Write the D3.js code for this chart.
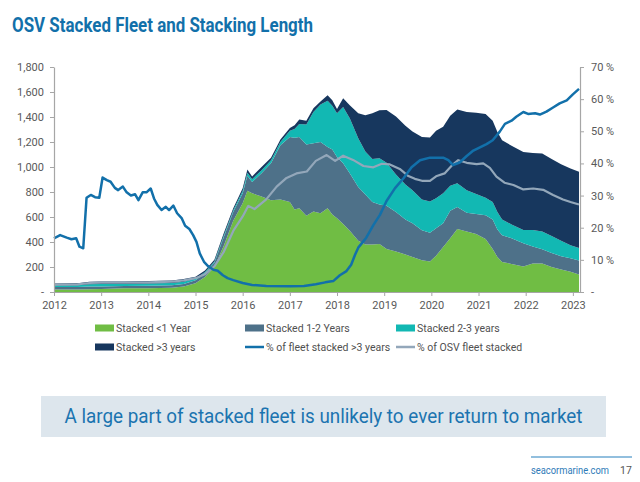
<!DOCTYPE html>
<html>
<head>
<meta charset="utf-8">
<script src="https://cdn.jsdelivr.net/npm/d3@7"></script>
<style>
  html, body { margin: 0; padding: 0; background: #ffffff; }
  svg { display: block; font-family: Roboto, "Noto Sans", sans-serif; }
</style>
</head>
<body>
<svg id="chart" width="640" height="482"></svg>
<script>
// ---------------- DATA ----------------
const titleText = "OSV Stacked Fleet and Stacking Length";
const calloutText = "A large part of stacked fleet is unlikely to ever return to market";
const yearTicks = [2012, 2013, 2014, 2015, 2016, 2017, 2018, 2019, 2020, 2021, 2022, 2023];
const leftTicks = [0, 200, 400, 600, 800, 1000, 1200, 1400, 1600, 1800];
const rightTicks = [0, 10, 20, 30, 40, 50, 60, 70];

// stacked area sample dates (decimal years)
const stackDates = [2012.0, 2012.5, 2012.75, 2013.0, 2013.5, 2014.0, 2014.5, 2014.75, 2015.0, 2015.2,
  2015.4, 2015.6, 2015.8, 2016.0, 2016.1, 2016.2, 2016.4, 2016.6, 2016.8, 2017.0,
  2017.1, 2017.2, 2017.35, 2017.5, 2017.65, 2017.8, 2017.9, 2018.0, 2018.13, 2018.27,
  2018.45, 2018.6, 2018.75, 2018.9, 2019.05, 2019.25, 2019.45, 2019.6, 2019.8, 2019.97,
  2020.1, 2020.25, 2020.4, 2020.55, 2020.75, 2020.95, 2021.15, 2021.3, 2021.4, 2021.5,
  2021.7, 2021.95, 2022.15, 2022.35, 2022.55, 2022.75, 2022.95, 2023.13];
const stackedLt1 = [20, 20, 22, 25, 30, 30, 35, 45, 70, 120,
  200, 370, 570, 710, 810, 790, 765, 735, 740, 720,
  660, 670, 610, 645, 630, 670, 620, 590, 545, 490,
  410, 380, 380, 385, 345, 325, 300, 280, 255, 245,
  290, 360, 430, 505, 485, 465, 425, 345, 280, 240,
  225, 205, 228, 228, 200, 180, 163, 140];
const stacked1to2 = [20, 20, 23, 20, 18, 20, 20, 20, 25, 30,
  35, 70, 70, 80, 120, 90, 185, 295, 435, 520,
  575, 570, 570, 545, 570, 490, 520, 490, 485, 460,
  430, 400, 340, 315, 345, 315, 280, 270, 240, 230,
  220, 190, 220, 175, 150, 160, 190, 235, 220, 215,
  205, 185, 137, 114, 112, 107, 107, 112];
const stacked2to3 = [15, 15, 17, 20, 17, 18, 17, 17, 13, 10,
  10, 15, 15, 20, 25, 23, 25, 25, 25, 50,
  70, 105, 160, 250, 300, 370, 350, 350, 450, 440,
  390, 345, 345, 370, 345, 300, 280, 265, 245, 250,
  240, 240, 200, 190, 180, 160, 140, 140, 140, 125,
  110, 106, 131, 142, 136, 123, 105, 100];
const stackedGt3 = [13, 15, 20, 20, 20, 20, 20, 23, 14, 12,
  13, 17, 15, 20, 25, 22, 25, 20, 20, 22,
  30, 35, 30, 30, 25, 45, 45, 35, 70, 105,
  200, 290, 365, 385, 421, 465, 470, 470, 500, 512,
  540, 533, 560, 590, 625, 650, 670, 650, 640, 635,
  630, 624, 616, 624, 617, 612, 613, 611];

// % of OSV fleet stacked
const fleetDates = [2012.0, 2012.5, 2012.75, 2013.0, 2013.5, 2014.0, 2014.5, 2014.75, 2015.0, 2015.2,
  2015.4, 2015.6, 2015.8, 2016.0, 2016.12, 2016.25, 2016.5, 2016.72, 2016.93, 2017.14,
  2017.36, 2017.55, 2017.78, 2017.96, 2018.13, 2018.34, 2018.56, 2018.77, 2018.95, 2019.12,
  2019.33, 2019.5, 2019.65, 2019.8, 2019.97, 2020.1, 2020.28, 2020.43, 2020.57, 2020.75,
  2020.96, 2021.1, 2021.24, 2021.38, 2021.55, 2021.74, 2021.95, 2022.16, 2022.37, 2022.58,
  2022.79, 2022.95, 2023.13];
const pctFleetStacked = [2.3, 2.4, 2.8, 2.9, 2.9, 3.0, 3.2, 3.6, 4.3, 5.5,
  8.0, 12.5, 19.0, 23.5, 26.8, 25.8, 28.8, 32.8, 35.5, 36.9,
  37.5, 40.8, 42.6, 40.8, 42.4, 41.1, 39.2, 38.8, 39.9, 39.7,
  38.3, 36.2, 35.2, 34.6, 34.6, 36.0, 36.9, 39.3, 41.0, 40.2,
  39.8, 40.0, 38.6, 35.9, 34.0, 33.3, 31.9, 32.2, 31.8, 30.2,
  28.8, 28.0, 27.2];

// % of fleet stacked > 3 years
const gt3Dates = [2012.0, 2012.13, 2012.27, 2012.37, 2012.47, 2012.54, 2012.62, 2012.69, 2012.78, 2012.87,
  2012.96, 2013.03, 2013.12, 2013.2, 2013.29, 2013.36, 2013.46, 2013.54, 2013.63, 2013.72,
  2013.79, 2013.88, 2013.96, 2014.05, 2014.12, 2014.19, 2014.28, 2014.37, 2014.44, 2014.53,
  2014.61, 2014.71, 2014.78, 2014.87, 2014.95, 2015.02, 2015.09, 2015.18, 2015.27, 2015.38,
  2015.47, 2015.58, 2015.68, 2015.8, 2016.0, 2016.2, 2016.5, 2017.0, 2017.3, 2017.55,
  2017.75, 2017.92, 2018.06, 2018.2, 2018.3, 2018.38, 2018.45, 2018.55, 2018.62, 2018.77,
  2018.91, 2019.05, 2019.23, 2019.41, 2019.58, 2019.76, 2019.97, 2020.25, 2020.36, 2020.46,
  2020.6, 2020.75, 2020.89, 2021.03, 2021.17, 2021.3, 2021.45, 2021.56, 2021.7, 2021.8,
  2021.95, 2022.05, 2022.2, 2022.3, 2022.44, 2022.58, 2022.72, 2022.87, 2023.0, 2023.13];
const pctStackedGt3 = [16.7, 17.7, 16.9, 16.4, 16.7, 14.1, 13.6, 29.3, 30.2, 29.5,
  29.3, 35.6, 34.8, 34.3, 32.4, 31.7, 32.8, 31.0, 30.0, 30.4,
  28.6, 31.0, 31.0, 32.2, 29.1, 27.1, 25.5, 26.5, 25.5, 26.9,
  24.5, 22.9, 20.6, 19.6, 17.7, 15.6, 12.0, 9.4, 8.0, 6.9,
  6.6, 5.2, 4.3, 3.7, 2.8, 2.2, 1.9, 1.8, 1.9, 2.4,
  3.0, 3.4, 5.2, 6.5, 8.5, 11.5, 13.8, 15.6, 16.9, 20.8,
  24.0, 28.3, 32.3, 35.4, 38.8, 41.0, 41.8, 41.8, 41.0, 39.5,
  40.3, 42.3, 44.0, 45.0, 46.0, 47.2, 49.9, 52.3, 53.3, 54.5,
  56.0, 55.4, 55.6, 55.2, 56.1, 57.4, 58.7, 59.6, 61.5, 63.2];

const seriesNames = ["Stacked <1 Year", "Stacked 1-2 Years", "Stacked 2-3 years", "Stacked >3 years"];
const lineNames = ["% of fleet stacked >3 years", "% of OSV fleet stacked"];

// ---------------- STYLE ----------------
const colors = {
  lt1: "#70bd44", y12: "#4e7189", y23: "#12b8b3", gt3: "#17375e",
  line3: "#1270aa", lineFleet: "#93a7ba",
  title: "#1270aa", axisText: "#595959", axisLine: "#a6a6a6"
};

const svg = d3.select("#chart");

// Title
svg.append("text")
  .attr("x", 12).attr("y", 32)
  .attr("font-size", 21).attr("font-weight", 700)
  .attr("fill", colors.title)
  .attr("textLength", 301).attr("lengthAdjust", "spacingAndGlyphs")
  .text(titleText);

// Scales
const x = d3.scaleLinear().domain([2012, 2023.13]).range([54, 579]);
const y = d3.scaleLinear().domain([0, 1800]).range([292, 67]);
const yp = d3.scaleLinear().domain([0, 70]).range([292, 67]);

// Stack
const table = stackDates.map((d, i) => ({
  date: d,
  lt1: stackedLt1[i], y12: stacked1to2[i], y23: stacked2to3[i], gt3: stackedGt3[i]
}));
const keys = ["lt1", "y12", "y23", "gt3"];
const stacked = d3.stack().keys(keys)(table);
const area = d3.area()
  .x(d => x(d.data.date))
  .y0(d => y(d[0]))
  .y1(d => y(d[1]));

const gPlot = svg.append("g");
gPlot.selectAll("path.layer").data(stacked).join("path")
  .attr("class", "layer")
  .attr("d", area)
  .attr("fill", d => colors[d.key]);

// Lines
const fleetLine = d3.line().x((d, i) => x(fleetDates[i])).y(d => yp(d));
const gt3Line = d3.line().x((d, i) => x(gt3Dates[i])).y(d => yp(d));
gPlot.append("path").attr("d", fleetLine(pctFleetStacked))
  .attr("fill", "none").attr("stroke", colors.lineFleet).attr("stroke-width", 2.2)
  .attr("stroke-linejoin", "round");
gPlot.append("path").attr("d", gt3Line(pctStackedGt3))
  .attr("fill", "none").attr("stroke", colors.line3).attr("stroke-width", 2.5)
  .attr("stroke-linejoin", "round");

// Axes
function styleAxis(g) {
  g.selectAll("path.domain").attr("stroke", colors.axisLine).attr("stroke-width", 1.2);
  g.selectAll(".tick line").attr("stroke", colors.axisLine);
  g.selectAll(".tick text").attr("fill", colors.axisText).attr("font-size", 11)
    .attr("font-family", "Roboto, 'Noto Sans', sans-serif");
}

const leftAxis = d3.axisLeft(y).tickValues(leftTicks).tickSize(4).tickPadding(6)
  .tickSizeOuter(0)
  .tickFormat(d => d === 0 ? "-" : d3.format(",")(d));
svg.append("g").attr("transform", "translate(54,0)").call(leftAxis).call(styleAxis);

const rightAxis = d3.axisRight(yp).tickValues(rightTicks).tickSize(4).tickPadding(7)
  .tickSizeOuter(0)
  .tickFormat(d => d === 0 ? "-" : d + " %");
svg.append("g").attr("transform", "translate(580,0)").call(rightAxis).call(styleAxis);

const bottomAxis = d3.axisBottom(x).tickValues(yearTicks).tickSize(4).tickPadding(5)
  .tickSizeOuter(0)
  .tickFormat(d3.format("d"));
const gb = svg.append("g").attr("transform", "translate(0,292)").call(bottomAxis).call(styleAxis);
gb.select("path.domain").attr("d", "M54,0.5H580");

// Legend
const legend = svg.append("g").attr("font-size", 10.5).attr("fill", "#404040");
const legendCols = [95, 245, 396];
const legendRows = [328, 347];
const legendItems = [
  { name: seriesNames[0], type: "rect", color: colors.lt1, col: 0, row: 0 },
  { name: seriesNames[1], type: "rect", color: colors.y12, col: 1, row: 0 },
  { name: seriesNames[2], type: "rect", color: colors.y23, col: 2, row: 0 },
  { name: seriesNames[3], type: "rect", color: colors.gt3, col: 0, row: 1 },
  { name: lineNames[0], type: "line", color: colors.line3, col: 1, row: 1 },
  { name: lineNames[1], type: "line", color: colors.lineFleet, col: 2, row: 1 }
];
legendItems.forEach(it => {
  const lx = legendCols[it.col], ly = legendRows[it.row];
  if (it.type === "rect") {
    legend.append("rect").attr("x", lx).attr("y", ly - 3.5).attr("width", 19).attr("height", 7)
      .attr("fill", it.color);
  } else {
    legend.append("line").attr("x1", lx).attr("x2", lx + 19).attr("y1", ly).attr("y2", ly)
      .attr("stroke", it.color).attr("stroke-width", 2.5);
  }
  legend.append("text").attr("x", lx + 21).attr("y", ly + 4).attr("fill", "#505050").text(it.name);
});

// Callout box
svg.append("rect").attr("x", 41).attr("y", 396).attr("width", 565).attr("height", 41)
  .attr("fill", "#dde6ed");
svg.append("text").attr("x", 323.5).attr("y", 423).attr("text-anchor", "middle")
  .attr("font-size", 20).attr("fill", "#1b74b0")
  .attr("textLength", 518).attr("lengthAdjust", "spacingAndGlyphs")
  .text(calloutText);

// Footer
svg.append("line").attr("x1", 531).attr("x2", 632).attr("y1", 457).attr("y2", 457)
  .attr("stroke", "#6eaad3").attr("stroke-width", 1.5);
svg.append("text").attr("x", 531).attr("y", 474).attr("font-size", 10.5).attr("fill", "#2e7ab8")
  .attr("textLength", 78).attr("lengthAdjust", "spacingAndGlyphs")
  .text("seacormarine.com");
svg.append("text").attr("x", 620).attr("y", 474).attr("font-size", 10.5).attr("fill", "#555555")
  .text("17");
</script>
</body>
</html>
